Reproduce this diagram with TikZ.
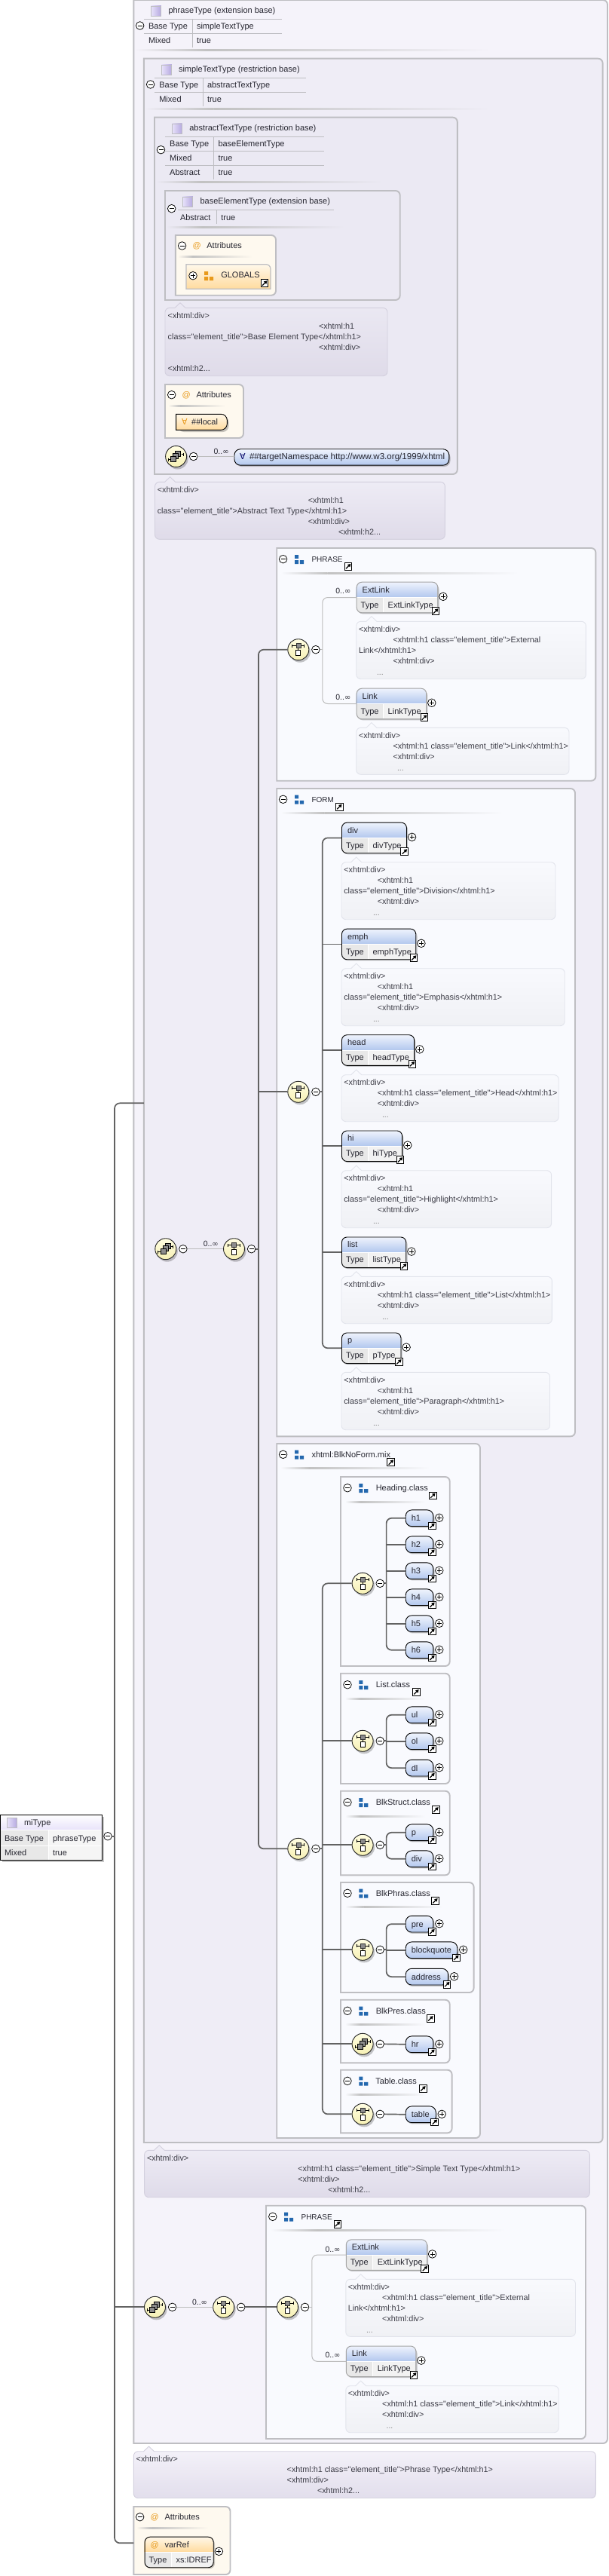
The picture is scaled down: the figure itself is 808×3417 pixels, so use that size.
\documentclass[tikz,border=0pt]{standalone}
\usepackage{fontspec}
\setmainfont{Liberation Sans}
\newfontfamily\djv{DejaVu Sans}
\newfontfamily\lib{Liberation Sans}
\usetikzlibrary{arrows.meta,calc}
\definecolor{bgA}{HTML}{F5F3FA}
\definecolor{bgB}{HTML}{EFEDF6}
\definecolor{bgC}{HTML}{EBE9F3}
\definecolor{bgG}{HTML}{F9FAFE}
\definecolor{bgO}{HTML}{FEF9EF}
\definecolor{boxc}{HTML}{BEBEC2}
\definecolor{conn}{HTML}{626262}
\definecolor{thinc}{HTML}{BCBCBC}
\definecolor{txtc}{HTML}{262630}
\definecolor{annc}{HTML}{3C3C46}
\definecolor{hdT}{HTML}{F0F4FD}
\definecolor{hdB}{HTML}{B3C8EE}
\definecolor{grpb}{HTML}{2468AE}
\definecolor{grpo}{HTML}{E89A1C}
\definecolor{compT}{HTML}{FFFDE2}
\definecolor{compB}{HTML}{F6F0B4}
\definecolor{DFDBE9}{HTML}{DFDBE9}
\definecolor{D3D0DE}{HTML}{D3D0DE}
\definecolor{F0F1F5}{HTML}{F0F1F5}
\definecolor{E2E4EC}{HTML}{E2E4EC}
\definecolor{E2DEEC}{HTML}{E2DEEC}
\definecolor{E0}{HTML}{E8E3FA}
\definecolor{E1}{HTML}{B5A8E0}
\definecolor{ornT}{HTML}{FFF8EA}
\definecolor{ornB}{HTML}{FFDB9E}
\newcount\tcnt
\tikzset{
 txt/.style={anchor=base west,inner sep=0pt,outer sep=0pt,yshift=-3.7pt,text=txtc,font=\fontsize{11}{13}\selectfont},
 annot/.style={text=annc,font=\fontsize{10.8}{12}\selectfont},
 dots/.style={text=gray,font=\fontsize{10.5}{12}\selectfont},
 occ/.style={font=\fontsize{10.5}{12}\selectfont},
 box/.style={draw=boxc,line width=1.9pt},
 pm/.style={circle,draw=black,fill=white,minimum size=10.6pt,inner sep=0pt,line width=.75pt},
 pmbar/.style={line width=.8pt,black},
 lkbox/.style={rectangle,draw=black,fill=white,minimum width=9.6pt,minimum height=9.6pt,inner sep=0pt,line width=.9pt},
 clsicon/.style={rectangle,draw=boxc,minimum width=13.5pt,minimum height=13pt,inner sep=0pt,line width=.8pt,left color=E0,right color=E1},
 tl/.style={draw=boxc,line width=.8pt},
 conline/.style={draw=conn,line width=1.7pt,rounded corners=7pt},
 thinline/.style={draw=thinc,line width=1pt,rounded corners=7pt},
 blacke/.style={draw=black,line width=.9pt},
 graye/.style={draw=black!35,line width=1pt},
 compnode/.style={circle,draw=black!85,line width=.9pt,top color=compT,bottom color=compB,minimum size=28pt,inner sep=0pt},
 sh/.style={black,opacity=.22},
}
\newcommand{\inft}{0..{\djv\fontsize{10}{10}\selectfont ∞}}
\newcommand{\sm}[1]{{\fontsize{10}{12}\selectfont #1}}
\newcommand{\tx}[4][]{\global\advance\tcnt by 1 \node[txt,#1] (t\the\tcnt) at (#2,#3) {#4};}
\newcommand{\mn}[3]{\node[pm] (#1) at (#2,#3) {}; \draw[pmbar] ([xshift=-3pt]#1.center) -- ([xshift=3pt]#1.center);}
\newcommand{\pl}[3]{\node[pm] (#1) at (#2,#3) {}; \draw[pmbar] ([xshift=-3pt]#1.center) -- ([xshift=3pt]#1.center); \draw[pmbar] ([yshift=-3pt]#1.center) -- ([yshift=3pt]#1.center);}
\newcommand{\lk}[3]{\node[lkbox] (#1) at (#2,#3) {}; \draw[line width=1.2pt,black,-{Triangle[length=4pt,width=4.6pt]}] ([xshift=-3pt,yshift=-3pt]#1.center) -- ([xshift=3.4pt,yshift=3.4pt]#1.center);}
\newcommand{\cbox}[5]{\draw[box,fill=#5] (#1,#2) [rounded corners=6pt] -- (#3,#2) -- (#3,#4) [sharp corners] -- (#1,#4) -- cycle;}
\newcommand{\fsep}[4]{% x1 y x2 bg
 \pgfmathsetmacro{\xm}{#1+0.2*(#3-#1)}
 \shade[left color=#4,right color=black!24] (#1,#2-1) rectangle (\xm,#2+1);
 \shade[left color=black!24,right color=#4] (\xm,#2-1) rectangle (#3,#2+1);}
\newcommand{\grpicon}[4]{\begin{scope}[shift={(#1,#2)}]\fill[#3] (0,0) rectangle (5,4.8) (0,7.2) rectangle (5,12) (6.8,7.2) rectangle (12,12);\end{scope}}
% group header: id minusx y title sepx2 linkcx linkcy textoffset
\newcommand{\ghead}[8]{\mn{#1m}{#2}{#3}\grpicon{#2+15.4}{#3-5.7}{grpb}{}\tx{#2+#8}{#3}{#4}\lk{#1k}{#6}{#7}\fsep{#2-3}{#3+18.5}{#5}{bgG}}
% annotation: id x y w h tipx top bottom border
\newcommand{\anno}[9]{\begin{scope}[shift={(#2,#3)}]
 \pgfmathsetmacro{\tl}{#6-#2-7}\pgfmathsetmacro{\tm}{#6-#2}\pgfmathsetmacro{\tr}{#6-#2+7}
 \draw[draw=#9,line width=.9pt,top color=#7,bottom color=#8] (\tl,0) [rounded corners=6pt] -- (0,0) -- (0,#5) -- (#4,#5) -- (#4,0) [sharp corners] -- (\tr,0) -- (\tm,-6.6) -- cycle;
 \coordinate (#1) at (0,0);
 \end{scope}}
\newcommand{\xd}{<xhtml:div>}
\newcommand{\xo}{<xhtml:h1}
\newcommand{\xc}{class={\lib"}element\_title{\lib"}>}
\newcommand{\xe}{</xhtml:h1>}
% annotation texts
\newcommand{\annfive}[5]{\tx[annot]{#1}{#4}{\xd}\tx[annot]{#2}{#4+14}{\xo}\tx[annot]{#1}{#4+28}{\xc#5\xe}\tx[annot]{#2}{#4+42}{\xd}\tx[dots]{#3}{#4+57.3}{...}}
\newcommand{\annfour}[5]{\tx[annot]{#1}{#4}{\xd}\tx[annot]{#2}{#4+14}{\xo{} \xc#5\xe}\tx[annot]{#2}{#4+28}{\xd}\tx[dots]{#3}{#4+43.3}{...}}
\newcommand{\annext}[4]{\tx[annot]{#1}{#4}{\xd}\tx[annot]{#2}{#4+14}{\xo{} \xc External}\tx[annot]{#1}{#4+28}{Link\xe}\tx[annot]{#2}{#4+42}{\xd}\tx[dots]{#3}{#4+57.3}{...}}
\newcommand{\anntype}[6]{\tx[annot]{#1}{#4}{\xd}\tx[annot]{#2}{#4+14}{\xo{} \xc#5\xe}\tx[annot]{#2}{#4+28}{\xd}\tx[annot]{#3}{#4+42}{<xhtml:h2...}}
% element: id x y w name type sepx style
\newcommand{\elem}[8]{\begin{scope}[shift={(#2,#3)}]
 \fill[sh,rounded corners=7pt] (1.5,3) rectangle (#4+2.2,42.6);
 \begin{scope}
 \clip[rounded corners=7pt] (0,0) rectangle (#4,40.6);
 \shade[top color=hdT,bottom color=hdB] (0,0) rectangle (#4,20.3);
 \fill[black!9] (0,20.3) rectangle (#7,40.6);
 \fill[black!5] (#7,20.3) rectangle (#4,40.6);
 \draw[white,line width=1pt] (0,20.8) -- (#4,20.8) (#7,20.3) -- (#7,40.6);
 \end{scope}
 \node[#8,rounded corners=7pt,anchor=north west,minimum width=#4pt,minimum height=40.6pt,inner sep=0pt] (#1) at (0,0) {};
 \tx{8}{10.6}{#5}\tx{6}{30.7}{Type}\tx{#7+6.3}{30.7}{#6}
 \pl{#1p}{#4+7.6}{19.6}
 \end{scope}}
\newcommand{\elemL}[8]{\elem{#1}{#2}{#3}{#4}{#5}{#6}{#7}{#8}\begin{scope}[shift={(#2,#3)}]\lk{#1k}{#4-2.3}{39}\end{scope}}
% small element: id x centery w name
\newcommand{\sel}[5]{\begin{scope}[shift={(#2,#3-10.85)}]
 \fill[sh,rounded corners=8pt] (1.5,3) rectangle (#4+2.2,24);
 \node[draw=black,line width=.9pt,rounded corners=8pt,top color=hdT,bottom color=hdB,anchor=north west,minimum width=#4pt,minimum height=21.7pt,inner sep=0pt] (#1) at (0,0) {};
 \tx{8}{11.8}{#5}
 \pl{#1p}{#4+8.4}{10.85}
 \lk{#1k}{#4-1.1}{21.4}
 \end{scope}}
% compositor: id x y kind(0 seq,1 all)
\newcommand{\comp}[4]{\begin{scope}[shift={(#2,#3)}]
 \fill[sh] (2,3) circle (14);
 \node[compnode] (#1) at (0,0) {};
 \ifnum#4=0
  \draw[black,line width=.8pt] (-8,-5) -- (8,-5) (-8,-7) -- (-8,-3) (8,-7) -- (8,-3) (0,-2) -- (0,1);
  \draw[draw=black!80,fill=black!45,line width=.6pt] (-3,-8) rectangle (3,-2);
  \draw[draw=black,fill=white,line width=.8pt] (-3,1) rectangle (3,8);
 \else
  \draw[black,line width=.8pt] (-10,4) -- (-7,4) (-10,2) -- (-10,6) (7,-3) -- (10,-3) (10,-5) -- (10,-1);
  \draw[draw=black,fill=black!45,line width=.6pt] (-1,-7) rectangle (6,0);
  \draw[draw=black,fill=black!45,line width=.6pt] (-4,-4) rectangle (3,3);
  \draw[draw=black,fill=black!45,line width=.6pt] (-7,0) rectangle (0,7);
 \fi
 \mn{#1m}{23.1}{0}
 \end{scope}}
\begin{document}
\begin{tikzpicture}[x=1pt,y=-1pt]
\useasboundingbox (0,0) rectangle (808,3417);
\fill[white] (0,0) rectangle (808,3417);
%================ phraseType
\cbox{177.3}{0}{806}{3241}{bgA}
\node[clsicon] (icA) at (207,14.5) {};
\tx{223.5}{14}{phraseType (extension base)}
\mn{mA}{185.7}{34}
\draw[tl] (191,25) -- (374,25) (191,44) -- (374,44) (255.5,25) -- (255.5,63);
\tx{197}{35}{Base Type}\tx{261}{35}{simpleTextType}\tx{197}{54}{Mixed}\tx{261}{54}{true}
\fsep{179}{66.7}{650}{bgA}
%================ simpleTextType
\cbox{190.8}{77.7}{799.6}{2842}{bgB}
\node[clsicon] (icB) at (221,92.5) {};
\tx{237}{92.3}{simpleTextType (restriction base)}
\mn{mB}{199.6}{112}
\draw[tl] (204.6,103.3) -- (406,103.3) (204.6,122.3) -- (406,122.3) (269.8,103.3) -- (269.8,141);
\tx{211.3}{113.3}{Base Type}\tx{275}{113.3}{abstractTextType}\tx{211.3}{132.3}{Mixed}\tx{275}{132.3}{true}
\fsep{192}{145}{650}{bgB}
%================ abstractTextType
\cbox{205}{155.7}{606.8}{629}{bgC}
\node[clsicon] (icC) at (234.8,170.5) {};
\tx{251.3}{170.3}{abstractTextType (restriction base)}
\mn{mC}{213.5}{198.7}
\draw[tl] (219,181.7) -- (430,181.7) (219,200.7) -- (430,200.7) (219,219.7) -- (430,219.7) (283.6,181.7) -- (283.6,238);
\tx{225.2}{191.3}{Base Type}\tx{289.5}{191.3}{baseElementType}\tx{225.2}{210.3}{Mixed}\tx{289.5}{210.3}{true}\tx{225.2}{229.3}{Abstract}\tx{289.5}{229.3}{true}
\fsep{207}{242}{507}{bgC}
%================ baseElementType
\cbox{219}{253}{530.7}{398}{bgC}
\node[clsicon] (icD) at (249,267.5) {};
\tx{265.6}{267.3}{baseElementType (extension base)}
\mn{mD}{227.7}{276.7}
\draw[tl] (236,278.7) -- (443,278.7) (287.4,278.7) -- (287.4,297);
\tx{239}{288.3}{Abstract}\tx{293.3}{288.3}{true}
\fsep{221}{301}{457}{bgC}
\cbox{232.8}{312}{366}{391.7}{bgO}
\mn{mE}{241.6}{326}
\tx[text=grpo]{255.6}{326}{@}
\tx{274.4}{326}{Attributes}
\fsep{236}{340}{335}{bgO}
\draw[draw=boxc,line width=1.2pt,top color=ornT,bottom color=ornB] (247,350.7) [rounded corners=6pt] -- (359,350.7) [sharp corners] -- (359,383.3) -- (247,383.3) -- cycle;
\pl{mF}{256}{365.7}
\grpicon{271}{360}{grpo}{}
\tx{293.3}{365}{GLOBALS}
\lk{kF}{351}{375.7}
%---- base annotation
\anno{aA}{219}{408.3}{295}{90.4}{239}{bgC}{DFDBE9}{D3D0DE}
\tx[annot]{222.7}{418.7}{\xd}
\tx[annot]{423}{432.7}{\xo}
\tx[annot]{222.7}{446.7}{\xc Base Element Type\xe}
\tx[annot]{423}{460.7}{\xd}
\tx[annot]{222.7}{488.7}{<xhtml:h2...}
%---- local attrs
\cbox{219}{510}{323}{581}{bgO}
\mn{mG}{227.7}{523.7}
\tx[text=grpo]{241.6}{524}{@}
\tx{260.5}{524}{Attributes}
\fsep{223.5}{538}{299}{bgO}
\fill[sh,rounded corners=8pt] (236,552) rectangle (303.5,573);
\draw[draw=black,line width=.9pt,top color=ornT,bottom color=ornB] (233.6,549.3) [rounded corners=8pt] -- (301.3,549.3) -- (301.3,570.3) [sharp corners] -- (233.6,570.3) -- cycle;
\tx[text=grpo,font=\djv\fontsize{11}{13}\selectfont]{241}{560}{∀}
\tx{254.2}{560}{\#\#local}
%---- any
\comp{cA}{233.6}{605.5}{1}
\fill[sh,rounded corners=8pt] (312.5,598.3) rectangle (597.5,619);
\node[draw=black,line width=.9pt,rounded corners=8pt,top color=hdT,bottom color=hdB,anchor=north west,minimum width=284.9pt,minimum height=21.4pt,inner sep=0pt] (anyA) at (310.5,595.3) {};
\tx[text=black!60!blue,font=\djv\fontsize{11}{13}\selectfont]{318}{606}{∀}
\tx[font=\fontsize{11.6}{13}\selectfont]{331}{606}{\#\#targetNamespace http://www.w3.org/1999/xhtml}
\draw[thinline] (cAm.east) -- (cAm.east -| anyA.west);
\tx[occ]{283.6}{598.3}{\inft}
%---- abstract annotation
\anno{aB}{205.5}{639.3}{384.9}{76}{225.6}{bgB}{DFDBE9}{D3D0DE}
\tx[annot]{208.8}{649.7}{\xd}
\tx[annot]{408.8}{663.7}{\xo}
\tx[annot]{208.8}{677.7}{\xc Abstract Text Type\xe}
\tx[annot]{408.8}{691.7}{\xd}
\tx[annot]{449}{705.7}{<xhtml:h2...}
%================ PHRASE 1
\cbox{367.2}{727}{790.4}{1035.7}{bgG}
\ghead{gA}{375.6}{741.7}{\sm{PHRASE}}{688}{462}{751.3}{37.9}
\comp{sA}{395.8}{861.7}{0}
\elemL{extA}{472.7}{771.7}{107.6}{ExtLink}{ExtLinkType}{35.7}{graye}
\elemL{lnkA}{472.7}{912.7}{92.5}{Link}{LinkType}{35.7}{graye}
\coordinate (trA) at (427.8,861.7);
\draw[thinline] (sAm.east) -- (trA);
\draw[thinline] (extA.west) -| (trA);
\draw[thinline] (lnkA.west) -| (trA);
\tx[occ]{445.4}{784}{\inft}
\tx[occ]{445.4}{925}{\inft}
\anno{aC}{472.7}{824.3}{304.7}{76.4}{492.9}{bgG}{F0F1F5}{E2E4EC}
\annext{476}{521.5}{500}{834.7}
\anno{aD}{472.7}{965.3}{282.3}{62}{492.9}{bgG}{F0F1F5}{E2E4EC}
\annfour{476}{521.5}{527}{975.7}{Link}
%================ FORM
\cbox{367.2}{1046}{763}{1905.3}{bgG}
\ghead{gB}{375.6}{1060.3}{\sm{FORM}}{667}{450.2}{1070.3}{37.9}
\comp{sB}{395.8}{1448.3}{0}
\coordinate (trB) at (427.8,1448.3);
\draw[conline] (sBm.east) -- (trB);
\elemL{eDiv}{453}{1090.7}{86}{div}{divType}{35.3}{blacke}
\elemL{eEmph}{453}{1231.7}{98.3}{emph}{emphType}{35.3}{blacke}
\elemL{eHead}{453}{1372.3}{96.2}{head}{headType}{35.3}{blacke}
\elemL{eHi}{453}{1499.5}{80.2}{hi}{hiType}{35.3}{blacke}
\elemL{eList}{453}{1640.5}{85.3}{list}{listType}{35.3}{blacke}
\elemL{eP}{453}{1767.5}{78.5}{p}{pType}{35.3}{blacke}
\draw[conline] (eDiv.west) -| (trB);
\draw[conline] (eP.west) -| (trB);
\draw[conline] (eEmph.west) -- (eEmph.west -| trB);
\draw[conline] (eHead.west) -- (eHead.west -| trB);
\draw[conline] (eHi.west) -- (eHi.west -| trB);
\draw[conline] (eList.west) -- (eList.west -| trB);
\anno{aE}{453}{1143.7}{284}{76}{472.7}{bgG}{F0F1F5}{E2E4EC}
\annfive{456.3}{500.9}{495}{1153.7}{Division}
\anno{aF}{453}{1284.7}{296.2}{76}{472.7}{bgG}{F0F1F5}{E2E4EC}
\annfive{456.3}{500.9}{495}{1294.7}{Emphasis}
\anno{aG}{453}{1425.7}{288.2}{62}{472.7}{bgG}{F0F1F5}{E2E4EC}
\annfour{456.3}{500.9}{507}{1435.7}{Head}
\anno{aH}{453}{1552.7}{278.6}{76}{472.7}{bgG}{F0F1F5}{E2E4EC}
\annfive{456.3}{500.9}{495}{1562.7}{Highlight}
\anno{aI}{453}{1693.3}{279.4}{62.4}{472.7}{bgG}{F0F1F5}{E2E4EC}
\annfour{456.3}{500.9}{507}{1703.7}{List}
\anno{aJ}{453}{1820.3}{276.5}{76.4}{472.7}{bgG}{F0F1F5}{E2E4EC}
\annfive{456.3}{500.9}{495}{1830.7}{Paragraph}
%================ xhtml:BlkNoForm.mix
\cbox{367.2}{1915}{637}{2836}{bgG}
\ghead{gC}{375.6}{1929.3}{xhtml:BlkNoForm.mix}{570}{518.7}{1939.7}{37.9}
\comp{sC}{395.8}{2452.3}{0}
\coordinate (trC) at (427.8,2452.3);
\draw[conline] (sCm.east) -- (trC);
%---- Heading
\cbox{452}{1959}{596.7}{2210}{bgG}
\ghead{gD}{461}{1973.7}{Heading.class}{564}{574.2}{1983.9}{37.8}
\comp{sD}{481.1}{2100.3}{0}
\sel{hOne}{537.8}{2013.3}{36.6}{h1}
\sel{hTwo}{537.8}{2048.3}{36.6}{h2}
\sel{hThree}{537.8}{2083.3}{36.6}{h3}
\sel{hFour}{537.8}{2118.3}{36.6}{h4}
\sel{hFive}{537.8}{2153.3}{36.6}{h5}
\sel{hSix}{537.8}{2188.3}{36.6}{h6}
\coordinate (trD) at (512.6,2100.3);
\draw[conline] (sDm.east) -- (trD);
\draw[conline] (hOne.west) -| (trD);
\draw[conline] (hSix.west) -| (trD);
\draw[conline] (hTwo.west) -- (hTwo.west -| trD);
\draw[conline] (hThree.west) -- (hThree.west -| trD);
\draw[conline] (hFour.west) -- (hFour.west -| trD);
\draw[conline] (hFive.west) -- (hFive.west -| trD);
%---- List
\cbox{452}{2219.7}{596.7}{2366}{bgG}
\ghead{gE}{461}{2234.7}{List.class}{564}{552.3}{2244.5}{37.8}
\comp{sE}{481.1}{2309.3}{0}
\sel{eUl}{537.8}{2274.3}{36.6}{ul}
\sel{eOl}{537.8}{2309.3}{36.6}{ol}
\sel{eDl}{537.8}{2344.7}{36.6}{dl}
\coordinate (trE) at (512.6,2309.3);
\draw[conline] (sEm.east) -- (trE);
\draw[conline] (eUl.west) -| (trE);
\draw[conline] (eDl.west) -| (trE);
\draw[conline] (eOl.west) -- (eOl.west -| trE);
%---- BlkStruct
\cbox{452}{2375.7}{596.7}{2487.3}{bgG}
\ghead{gF}{461}{2390.7}{BlkStruct.class}{564}{578.3}{2400.5}{37.8}
\comp{sF}{481.1}{2447.3}{0}
\sel{ePP}{537.8}{2430.3}{36.6}{p}
\sel{eDD}{537.8}{2465.3}{36.6}{div}
\coordinate (trF) at (512.6,2447.3);
\draw[conline] (sFm.east) -- (trF);
\draw[conline] (ePP.west) -| (trF);
\draw[conline] (eDD.west) -| (trF);
%---- BlkPhras
\cbox{452}{2497}{628.6}{2643}{bgG}
\ghead{gG}{461}{2511.3}{BlkPhras.class}{587}{577.2}{2521.5}{37.8}
\comp{sG}{481.1}{2586.3}{0}
\sel{ePre}{537.8}{2551.7}{36.6}{pre}
\sel{eBq}{537.8}{2586.3}{68.5}{blockquote}
\sel{eAd}{537.8}{2621.7}{56.4}{address}
\coordinate (trG) at (512.6,2586.3);
\draw[conline] (sGm.east) -- (trG);
\draw[conline] (ePre.west) -| (trG);
\draw[conline] (eAd.west) -| (trG);
\draw[conline] (eBq.west) -- (eBq.west -| trG);
%---- BlkPres
\cbox{452}{2652.7}{596.7}{2736.3}{bgG}
\ghead{gH}{461}{2667.3}{BlkPres.class}{564}{571.2}{2677.5}{37.8}
\comp{sH}{481.1}{2711.3}{1}
\sel{eHr}{537.8}{2711.3}{36.6}{hr}
\draw[conline] (sHm.east) -- (eHr.west);
%---- Table
\cbox{452}{2745.7}{599.6}{2829.3}{bgG}
\ghead{gI}{461}{2760.3}{Table.class}{564}{561.2}{2770.5}{37.4}
\comp{sI}{481.1}{2804.3}{0}
\sel{eTb}{537.8}{2804.3}{40}{table}
\draw[conline] (sIm.east) -- (eTb.west);
%---- trunk of BlkNoForm
\draw[conline] (sD.west) -| (trC);
\draw[conline] (sI.west) -| (trC);
\draw[conline] (sE.west) -- (sE.west -| trC);
\draw[conline] (sF.west) -- (sF.west -| trC);
\draw[conline] (sG.west) -- (sG.west -| trC);
\draw[conline] (sH.west) -- (sH.west -| trC);
%---- simpleTextType compositors
\comp{cB}{219.8}{1656.7}{1}
\comp{sJ}{310.5}{1656.7}{0}
\draw[thinline] (cBm.east) -- (sJ.west);
\tx[occ]{269.8}{1649.3}{\inft}
\coordinate (trJ) at (342.9,1656.7);
\draw[conline] (sJm.east) -- (trJ);
\draw[conline] (sA.west) -| (trJ);
\draw[conline] (sC.west) -| (trJ);
\draw[conline] (sB.west) -- (sB.west -| trJ);
%---- simple annotation
\anno{aK}{191.6}{2852.3}{590.8}{62.4}{211.3}{bgB}{DFDBE9}{D3D0DE}
\anntype{195}{395.4}{435.3}{2862.7}{Simple Text Type}{}
%================ PHRASE 2
\cbox{353}{2925.7}{777}{3235}{bgG}
\ghead{gJ}{361.8}{2940.3}{\sm{PHRASE}}{671}{447.8}{2950.2}{37.8}
\comp{sK}{381.5}{3060.3}{0}
\elemL{extB}{458.8}{2970.3}{107.2}{ExtLink}{ExtLinkType}{35.7}{graye}
\elemL{lnkB}{458.8}{3111.5}{92.5}{Link}{LinkType}{35.7}{graye}
\coordinate (trK) at (413.9,3060.3);
\draw[thinline] (sKm.east) -- (trK);
\draw[thinline] (extB.west) -| (trK);
\draw[thinline] (lnkB.west) -| (trK);
\tx[occ]{431.5}{2983.3}{\inft}
\tx[occ]{431.5}{3124}{\inft}
\anno{aL}{458.8}{3023.3}{304.7}{76}{478.6}{bgG}{F0F1F5}{E2E4EC}
\annext{461.8}{507.2}{486}{3033.7}
\anno{aM}{458.8}{3164.7}{282.4}{62}{478.6}{bgG}{F0F1F5}{E2E4EC}
\annfour{461.8}{507.2}{512.6}{3174.7}{Link}
%---- phraseType compositors
\comp{cC}{205.5}{3060.3}{1}
\comp{sL}{296.7}{3060.3}{0}
\draw[thinline] (cCm.east) -- (sL.west);
\tx[occ]{255}{3053.3}{\inft}
\draw[conline] (sLm.east) -- (sK.west);
%---- phrase annotation
\anno{aN}{177.3}{3251.7}{613.1}{62}{197.5}{bgA}{E2DEEC}{D3D0DE}
\anntype{180.7}{380.7}{421}{3261.7}{Phrase Type}{}
%================ Attributes
\cbox{177.3}{3325}{305.5}{3415}{bgO}
\mn{mH}{185.7}{3338.7}
\tx[text=grpo]{199.5}{3339}{@}
\tx{218.5}{3339}{Attributes}
\fsep{181.5}{3353.3}{276}{bgO}
\colorlet{hdT}{ornT}
\colorlet{hdB}{ornB}
\elem{eVar}{191.6}{3364.7}{91.2}{}{xs:IDREF}{35.7}{blacke}
\tx[text=grpo]{199.5}{3375.3}{@}
\tx{218.5}{3375.3}{varRef}
%================ miType
\fill[sh] (3,2410) rectangle (138,2470);
\shade[top color=white,bottom color=E0] (0,2406.7) rectangle (135,2427.3);
\fill[black!9] (0,2427.3) rectangle (64,2466.7);
\fill[black!4] (64,2427.3) rectangle (135,2466.7);
\draw[white,line width=1pt] (0,2427.6) -- (135,2427.6) (0,2448.3) -- (135,2448.3) (64,2427.3) -- (64,2466.7);
\node[draw=black,line width=.9pt,anchor=north west,minimum width=135pt,minimum height=60pt,inner sep=0pt] (miT) at (0,2406.7) {};
\node[clsicon] (icM) at (15.8,2418) {};
\tx{32}{2417.5}{miType}
\tx{6}{2438.3}{Base Type}\tx{70}{2438.3}{phraseType}\tx{6}{2457.3}{Mixed}\tx{70}{2457.3}{true}
\mn{mM}{143}{2435.7}
%---- main connector
\coordinate (trM) at (152,2435.7);
\coordinate (inB) at (190.8,1463.3);
\coordinate (inO) at (177.3,3373.3);
\draw[conline] (mM.east) -- (trM);
\draw[conline] (inB) -| (trM);
\draw[conline] (inO) -| (trM);
\draw[conline] (cC.west) -- (cC.west -| trM);
\end{tikzpicture}
\end{document}
